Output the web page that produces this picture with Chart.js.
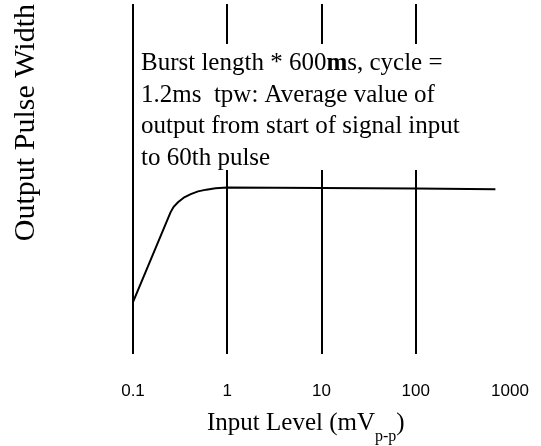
<!DOCTYPE html>
<html lang="en">
<head>
  <meta charset="UTF-8">
  <title>Output Pulse Width vs Input Level</title>
  <script src="https://cdn.jsdelivr.net/npm/chart.js"></script>
  <style>
    body {
      margin: 0;
      background: #fff;
    }
    #wrap {
      width: 541px;
      height: 446px;
    }
  </style>
</head>
<body>
  <div id="wrap">
    <canvas id="pulseChart"></canvas>
  </div>

  <script>
    // input level (mVp-p) and output pulse width (relative units)
    const inputLevel = [0.1, 0.25, 0.27, 0.3, 0.35, 0.41, 0.49, 0.6, 0.75, 1, 10, 100, 700];
    const pulseWidth = [14.7, 40.4, 42.0, 43.3, 44.7, 45.6, 46.4, 46.9, 47.3, 47.5, 47.4, 47.2, 47.0];
    const tickValues = [0.1, 1, 10, 100, 1000];
    const tickLabels = ['0.1', '1', '10', '100', '1000'];

    const noteLines = [
      [['Burst length * 600', false], ['m', true], ['s, cycle =', false]],
      [['1.2ms  tpw: Average value of', false]],
      [['output from start of signal input', false]],
      [['to 60th pulse', false]]
    ];

    const serif = '"Liberation Serif", "Times New Roman", serif';

    // note box over the grid and the x axis title with subscript
    const notePlugin = {
      id: 'notePlugin',
      afterDatasetsDraw(chart) {
        const ctx = chart.ctx;
        const area = chart.chartArea;
        ctx.save();
        ctx.fillStyle = '#fff';
        ctx.fillRect(area.left + 3, 44, 360, 126);
        ctx.beginPath();
        ctx.rect(area.left + 3, 44, 360, 126);
        ctx.clip();
        ctx.fillStyle = '#000';
        ctx.textBaseline = 'alphabetic';
        noteLines.forEach((parts, i) => {
          let x = area.left + 8;
          const y = 70 + i * 31.5;
          parts.forEach(([txt, bold]) => {
            ctx.font = (bold ? 'bold ' : '') + '25px ' + serif;
            ctx.fillText(txt, x, y);
            x += ctx.measureText(txt).width;
          });
        });
        ctx.restore();
      },
      afterDraw(chart) {
        const ctx = chart.ctx;
        ctx.save();
        ctx.fillStyle = '#000';
        let x = 207;
        ctx.font = '25px ' + serif;
        ctx.fillText('Input Level (mV', x, 430);
        x += ctx.measureText('Input Level (mV').width;
        ctx.font = '16px ' + serif;
        ctx.fillText('p-p', x, 441);
        x += ctx.measureText('p-p').width;
        ctx.font = '25px ' + serif;
        ctx.fillText(')', x, 430);
        ctx.restore();
      }
    };

    new Chart(document.getElementById('pulseChart'), {
      type: 'line',
      data: {
        datasets: [{
          data: inputLevel.map((v, i) => ({ x: v, y: pulseWidth[i] })),
          borderColor: '#000',
          borderWidth: 2,
          pointRadius: 0,
          fill: false,
          tension: 0
        }]
      },
      options: {
        responsive: true,
        maintainAspectRatio: false,
        animation: false,
        layout: {
          padding: { top: 4, right: 31, bottom: 41, left: 6 }
        },
        plugins: {
          legend: { display: false },
          tooltip: { enabled: false }
        },
        scales: {
          x: {
            type: 'logarithmic',
            min: 0.1,
            max: 1000,
            afterBuildTicks(scale) {
              scale.ticks = tickValues.map(v => ({ value: v }));
            },
            ticks: {
              autoSkip: false,
              maxRotation: 0,
              padding: 3,
              color: '#000',
              font: { family: '"Liberation Sans", Arial, sans-serif', size: 17 },
              callback: (value) => tickLabels[tickValues.indexOf(value)]
            },
            grid: {
              drawTicks: true,
              tickLength: 25,
              tickColor: 'rgba(0,0,0,0)',
              lineWidth: 2,
              color: (ctx) => ctx.tick && ctx.tick.value === 1000 ? 'rgba(0,0,0,0)' : '#000'
            },
            border: { display: false }
          },
          y: {
            min: 0,
            max: 100,
            ticks: { display: false },
            grid: { display: false },
            border: { display: false },
            title: {
              display: true,
              text: 'Output Pulse Width',
              align: 'end',
              color: '#000',
              font: { family: serif, size: 30 },
              padding: { top: 2, bottom: 81 }
            }
          }
        }
      },
      plugins: [notePlugin]
    });
  </script>
</body>
</html>
